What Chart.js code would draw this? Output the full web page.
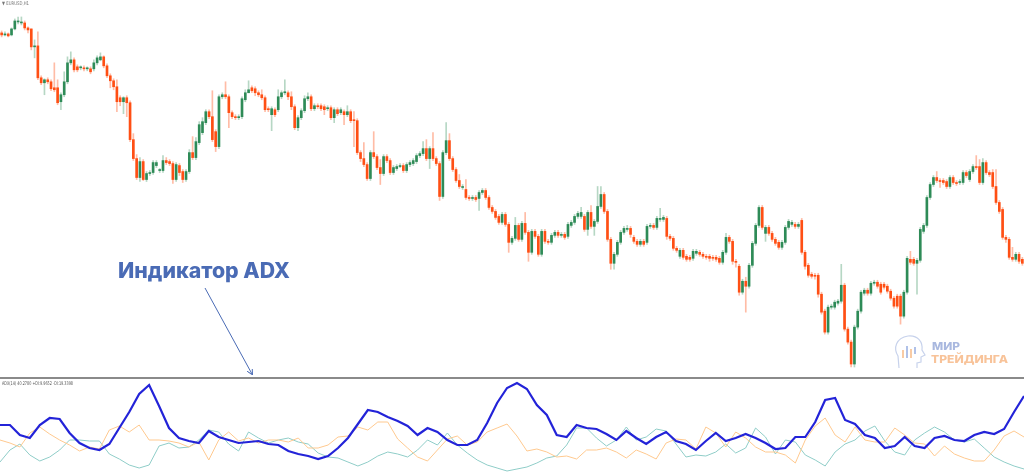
<!DOCTYPE html>
<html>
<head>
<meta charset="utf-8">
<script src="https://cdn.jsdelivr.net/npm/chart.js@4.4.1/dist/chart.umd.min.js"></script>
<style>
  html, body { margin: 0; padding: 0; background: #fff; }
  #wrap { position: relative; width: 1024px; height: 473px; overflow: hidden; background: #fff; }
  #price { position: absolute; left: 0; top: 0; }
  #sep { position: absolute; left: 0; top: 377px; width: 1024px; height: 2px; background: #8a8a8a; }
  #adx { position: absolute; left: 0; top: 380px; }
  #overlay { position: absolute; left: 0; top: 0; }
</style>
</head>
<body>
<div id="wrap">
  <canvas id="price" width="1024" height="377"></canvas>
  <div id="sep"></div>
  <canvas id="adx" width="1024" height="93"></canvas>
  <svg id="overlay" width="1024" height="473" xmlns="http://www.w3.org/2000/svg">
    <defs>
      <marker id="head" markerWidth="6" markerHeight="6" refX="5" refY="3" orient="auto">
        <path d="M0,0 L6,3 L0,6" fill="none" stroke="#4a6bb5" stroke-width="1"/>
      </marker>
    </defs>
    <text x="2" y="5" font-family="DejaVu Sans" font-size="5" fill="#777" textLength="27" lengthAdjust="spacingAndGlyphs">▼ EURUSD,H1</text>
    <text x="2" y="385" font-family="DejaVu Sans" font-size="5" fill="#555" textLength="71" lengthAdjust="spacingAndGlyphs">ADX(14) 40.2780 +DI:9.9652 -DI:19.3398</text>
    <text x="118" y="278" font-family="Inter, 'Open Sans', sans-serif" font-weight="800" font-size="21" fill="#4a6bb5" textLength="172" lengthAdjust="spacingAndGlyphs">Индикатор ADX</text>
    <line x1="205" y1="288" x2="252" y2="374" stroke="#4a6bb5" stroke-width="1" marker-end="url(#head)"/>
    <!-- logo -->
    <g opacity="0.55">
      <path d="M899,368 L898,356 C893,348 896,338 908,336 C918,335 923,342 922,350 L925,355 L921,357 L921,362 L917,363 L917,368" fill="none" stroke="#9aaedc" stroke-width="1.2"/>
      <rect x="902" y="350" width="2" height="8" fill="#f3a15c"/>
      <rect x="906" y="346" width="2" height="12" fill="#6f8fd6"/>
      <rect x="910" y="349" width="2" height="9" fill="#f3a15c"/>
      <rect x="914" y="347" width="2" height="7" fill="#6f8fd6"/>
    </g>
    <text x="932" y="350" font-family="Inter, sans-serif" font-weight="800" font-size="11" fill="#a9b8df" textLength="28" lengthAdjust="spacingAndGlyphs">МИР</text>
    <text x="931" y="363" font-family="Inter, sans-serif" font-weight="800" font-size="11" fill="#f8c399" textLength="77" lengthAdjust="spacingAndGlyphs">ТРЕЙДИНГА</text>
  </svg>
</div>
<script>
// EURUSD candles, price in points
const open = [
  367,365,366,365,371,378,377,377,372,371,
  353,354,322,317,320,318,312,312,298,305,
  318,337,340,333,332,332,331,331,331,337,
  340,343,334,324,319,313,302,298,302,297,
  260,241,222,238,220,226,227,234,229,229,
  239,238,236,220,234,228,220,228,247,242,
  257,267,277,288,283,268,253,303,305,303,
  287,283,282,283,300,307,312,311,307,305,
  302,291,285,290,290,303,307,307,303,293,
  272,282,289,301,303,291,294,294,293,291,
  292,282,290,287,288,285,288,280,279,247,
  241,235,221,247,243,232,226,243,239,227,
  231,233,234,229,235,236,238,244,246,251,
  241,251,241,236,203,247,259,241,230,219,
  212,210,202,201,202,201,207,209,202,192,
  188,183,177,185,175,157,161,174,160,176,
  167,147,168,163,145,168,158,157,164,167,
  164,165,163,174,177,183,183,183,170,187,
  173,178,193,205,188,160,136,145,157,167,
  170,171,162,158,155,158,157,173,174,172,
  180,180,181,163,161,151,143,149,143,142,
  141,146,147,145,143,143,142,142,141,137,
  147,162,158,138,133,107,118,113,134,156,
  174,192,166,172,166,160,157,152,157,172,
  175,175,173,179,147,134,125,124,124,105,
  88,67,92,92,96,98,114,70,57,35,
  72,88,106,109,106,116,117,115,115,113,
  108,101,103,103,83,107,140,140,136,139,
  168,174,202,215,222,219,219,218,213,222,
  217,217,217,227,220,228,233,233,217,237,
  227,227,213,197,190,162,160,142,140,145,
  140
];
const close = [
  365,366,364,371,379,378,378,372,370,353,
  354,322,317,320,318,311,310,297,305,318,
  337,340,330,330,332,331,331,328,337,342,
  343,334,324,319,313,298,298,302,297,260,
  241,222,238,220,226,227,237,237,229,239,
  237,236,220,235,227,220,228,247,242,258,
  275,278,288,283,260,253,303,305,303,287,
  283,282,283,301,307,310,309,307,305,302,
  290,290,291,285,303,307,307,303,293,272,
  282,289,301,303,291,294,293,291,290,292,
  282,290,286,290,285,288,279,279,247,241,
  235,221,247,243,232,226,243,239,227,232,
  233,234,229,235,237,239,244,246,251,241,
  251,241,236,203,247,259,241,230,219,213,
  213,202,201,202,200,207,209,202,192,188,
  182,177,185,175,157,161,174,160,176,167,
  147,168,163,145,168,158,157,164,167,164,
  165,162,175,177,183,186,187,170,187,173,
  178,193,205,188,160,136,145,157,167,171,
  171,165,158,155,158,155,173,174,172,181,
  181,182,163,161,151,149,149,142,140,140,
  148,148,145,143,142,141,141,140,137,147,
  162,158,138,137,107,118,113,134,156,174,
  192,172,172,166,160,156,152,157,172,178,
  177,173,175,147,133,124,123,123,105,87,
  67,92,93,97,98,114,70,57,35,72,
  88,107,109,106,116,117,113,107,112,108,
  101,93,93,83,107,141,137,136,139,170,
  174,202,215,222,219,218,217,213,222,217,
  216,218,227,224,228,233,232,217,237,227,
  225,213,197,188,162,160,142,140,145,138,
  136
];
const high = [
  369,368,367,372,381,383,383,379,373,371,
  360,368,324,321,322,320,337,320,307,328,
  343,348,342,335,334,334,333,333,340,344,
  347,344,336,326,321,320,304,303,304,299,
  266,245,242,240,228,229,239,239,231,244,
  242,240,238,237,236,230,230,250,263,262,
  278,282,290,290,309,270,305,307,318,305,
  289,285,285,303,310,319,314,313,309,310,
  304,293,293,292,310,309,320,309,308,295,
  284,291,304,307,305,296,296,296,295,294,
  294,292,292,292,290,294,290,288,281,249,
  257,237,249,268,245,240,245,245,241,234,
  235,236,236,237,239,241,246,248,258,260,
  253,267,243,238,249,277,266,243,232,225,
  215,220,204,204,204,209,211,211,204,194,
  190,185,187,187,177,163,182,176,178,187,
  169,170,170,165,170,170,160,166,169,169,
  167,167,177,179,185,188,192,185,189,194,
  180,213,213,207,190,162,147,159,169,173,
  174,173,164,160,160,160,175,176,176,183,
  191,184,183,165,163,153,151,151,145,144,
  150,150,149,147,145,145,144,144,143,149,
  166,164,160,140,135,120,122,136,158,176,
  194,194,174,174,168,162,159,159,174,180,
  179,177,177,181,149,136,127,126,126,107,
  90,94,95,99,100,135,116,72,59,74,
  90,109,111,111,118,119,119,117,117,115,
  110,103,105,105,109,143,148,142,141,172,
  176,204,217,224,228,221,221,220,224,224,
  219,220,229,229,230,235,244,240,241,239,
  229,230,230,199,192,164,162,152,147,147,
  142
];
const low = [
  363,364,363,364,370,376,375,370,367,350,
  342,320,315,305,316,309,308,295,290,303,
  316,335,328,328,330,329,329,326,329,335,
  339,332,322,312,310,288,294,286,283,258,
  239,220,218,219,218,224,225,232,227,227,
  235,234,216,218,224,217,218,226,240,240,
  255,265,275,281,258,248,251,301,301,272,
  281,280,280,281,298,307,307,304,303,300,
  288,288,269,283,288,301,305,300,290,270,
  269,280,287,299,289,289,291,289,285,289,
  280,277,284,285,275,283,277,253,245,238,
  233,219,219,241,230,215,224,237,225,225,
  229,232,227,227,233,234,236,242,244,239,
  231,239,234,199,201,245,239,228,217,211,
  210,200,199,199,198,189,205,200,190,186,
  180,175,175,173,147,155,159,158,158,165,
  138,145,161,143,143,156,155,155,162,162,
  162,160,161,172,175,181,181,168,164,171,
  164,176,191,186,158,130,130,143,155,165,
  168,162,156,153,153,153,155,171,170,170,
  178,178,160,159,149,147,141,140,138,138,
  139,144,143,141,140,138,139,138,135,135,
  145,156,135,132,104,105,87,111,132,154,
  172,170,158,164,158,154,150,150,155,170,
  173,171,171,145,130,122,121,120,102,85,
  65,65,90,90,94,96,68,55,32,32,
  70,86,104,104,104,114,111,105,110,106,
  99,91,91,75,81,105,135,134,105,137,
  166,172,200,213,217,212,215,211,211,215,
  214,215,215,222,218,226,230,215,215,225,
  223,211,195,186,160,157,140,138,138,136,
  134
];

// ADX(14) panel, one reading every third bar
const adxLine = [
  48,48,38,35,48,55,54,40,30,25,
  23,29,45,61,79,88,67,45,35,32,
  30,42,36,33,30,31,32,29,28,22,
  19,17,14,17,25,35,49,63,61,56,
  52,47,38,45,41,33,28,28,33,50,
  70,85,90,84,68,58,38,36,48,45,
  44,39,33,42,35,29,36,41,32,29,
  23,32,40,32,35,39,35,30,24,25,
  36,36,51,73,75,53,49,38,35,25,
  27,36,27,25,35,37,33,32,38,41,
  39,44,61,77
];
const minusDI = [
  33,30,26,40,46,39,33,28,22,26,
  24,43,47,41,48,33,33,32,30,26,
  31,13,33,41,32,35,30,33,33,31,
  35,25,25,28,36,37,46,43,51,51,
  34,25,16,12,23,34,37,28,31,41,
  45,49,37,22,24,21,16,17,14,23,
  23,25,21,15,23,19,14,30,34,33,
  24,46,40,26,41,35,26,21,21,18,
  10,33,47,55,38,31,46,33,31,31,
  45,38,30,29,17,27,19,15,12,12,
  23,37,42,36
];
const plusDI = [
  11,23,29,18,12,16,23,33,33,32,
  32,19,14,8,5,8,27,30,25,26,
  33,43,41,29,22,41,35,30,33,35,
  31,29,20,16,15,11,7,11,17,21,
  19,16,23,33,28,40,28,20,13,8,
  5,2,4,6,10,15,17,28,45,45,
  35,27,33,46,33,36,44,42,29,16,
  18,17,21,29,20,25,45,36,19,33,
  31,18,13,7,21,29,33,42,47,32,
  21,18,33,40,46,41,33,31,34,25,
  16,11,7,4
];

const UP = '#2e8b57';
const DOWN = '#ff4f14';
const UP_WICK = 'rgba(46,139,87,0.35)';
const DOWN_WICK = 'rgba(255,79,20,0.38)';

const bars = close.map((_, i) => i + 1);
const isUp = close.map((c, i) => c >= open[i]);

const candleChart = new Chart(document.getElementById('price'), {
    type: 'bar',
    data: {
        labels: bars,
        datasets: [{
            // wicks
            data: bars.map((_, i) => [low[i], high[i]]),
            backgroundColor: isUp.map(u => u ? UP_WICK : DOWN_WICK),
            barThickness: 1,
            grouped: false,
            order: 2
        }, {
            // bodies
            data: bars.map((_, i) => [open[i], close[i]]),
            backgroundColor: isUp.map(u => u ? UP : DOWN),
            barThickness: 2,
            minBarLength: 1,
            grouped: false,
            order: 1
        }]
    },
    options: {
        responsive: false,
        animation: false,
        devicePixelRatio: 1,
        events: [],
        layout: { padding: 0 },
        plugins: { legend: { display: false }, tooltip: { enabled: false } },
        scales: {
            x: { display: false, offset: true },
            y: { display: false, min: 22, max: 400 }
        }
    }
});

const adxLabels = bars.filter((_, i) => i % 3 === 0);

const adxChart = new Chart(document.getElementById('adx'), {
    type: 'line',
    data: {
        labels: adxLabels,
        datasets: [{
            label: '+DI',
            data: plusDI,
            borderColor: '#8fcdc8',
            borderWidth: 1,
            pointRadius: 0,
            tension: 0,
            order: 3
        }, {
            label: '-DI',
            data: minusDI,
            borderColor: '#ffc98f',
            borderWidth: 1,
            pointRadius: 0,
            tension: 0,
            order: 2
        }, {
            label: 'ADX',
            data: adxLine,
            borderColor: '#2323d8',
            borderWidth: 2.2,
            pointRadius: 0,
            tension: 0,
            order: 1
        }]
    },
    options: {
        responsive: false,
        animation: false,
        devicePixelRatio: 1,
        events: [],
        layout: { padding: 0 },
        plugins: { legend: { display: false }, tooltip: { enabled: false } },
        scales: {
            x: { display: false, offset: false },
            y: { display: false, min: 0, max: 93 }
        }
    }
});
</script>
</body>
</html>
